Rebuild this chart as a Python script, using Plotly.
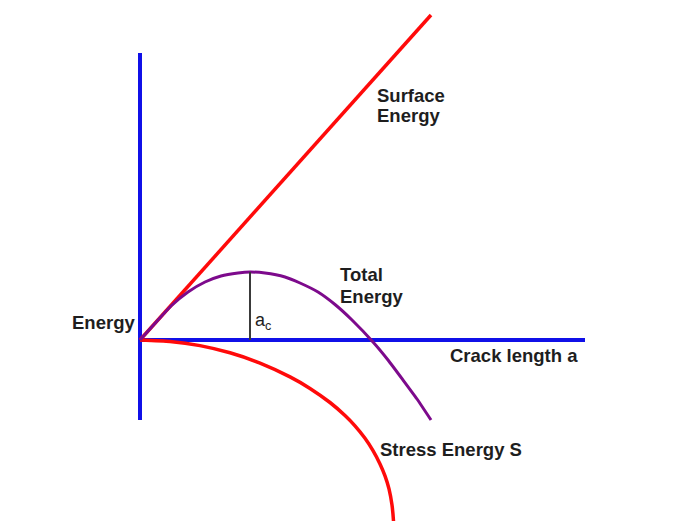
import plotly.graph_objects as go

# Data (crack length a, energy) in arbitrary units
surface_a = [0.0, 2.91]
surface_E = [0.0, 3.25]

total_a = [0.0, 0.18, 0.31, 0.48, 0.65, 0.81, 0.98, 1.10, 1.25, 1.45, 1.60, 1.78, 1.95,
           2.12, 2.33, 2.48, 2.63, 2.77, 2.91]
total_E = [0.0, 0.20, 0.34, 0.48, 0.58, 0.64, 0.67, 0.68, 0.67, 0.63, 0.57, 0.48, 0.355,
           0.20, -0.02, -0.20, -0.40, -0.59, -0.80]

stress_a = [0.0, 0.30, 0.60, 0.90, 1.20, 1.50, 1.70, 1.90, 2.05, 2.15, 2.25, 2.33,
            2.40, 2.45, 2.49, 2.52, 2.535, 2.54]
stress_E = [0.0, -0.014, -0.056, -0.128, -0.231, -0.369, -0.484, -0.625, -0.755, -0.858,
            -0.983, -1.106, -1.239, -1.359, -1.489, -1.651, -1.81, -1.95]

a_crit = 1.10
E_crit = 0.68

axis_v_E = [2.87, -0.80]
axis_h_a = [0.0, 4.45]

BLUE = "#1010e8"
RED = "#ff0a0a"
PURPLE = "#7d0a8c"
TXT = "#1e1e1e"
FONT = "Arial, Liberation Sans, sans-serif"

fig = go.Figure()

# axes
fig.add_trace(go.Scatter(x=[0, 0], y=axis_v_E, mode="lines",
                         line=dict(color=BLUE, width=4), hoverinfo="skip"))
fig.add_trace(go.Scatter(x=axis_h_a, y=[0, 0], mode="lines",
                         line=dict(color=BLUE, width=4), hoverinfo="skip"))

# curves
fig.add_trace(go.Scatter(x=stress_a, y=stress_E, mode="lines",
                         line=dict(color=RED, width=3.5, shape="spline", smoothing=0.5),
                         name="Stress Energy S"))
fig.add_trace(go.Scatter(x=surface_a, y=surface_E, mode="lines",
                         line=dict(color=RED, width=3.5), name="Surface Energy"))
fig.add_trace(go.Scatter(x=total_a, y=total_E, mode="lines",
                         line=dict(color=PURPLE, width=3, shape="spline", smoothing=0.5),
                         name="Total Energy"))
fig.add_trace(go.Scatter(x=[a_crit, a_crit], y=[0, E_crit], mode="lines",
                         line=dict(color="#3a3a3a", width=2), hoverinfo="skip"))


def label(x, y, text, xanchor="left", bold=True, size=18.5):
    fig.add_annotation(x=x, y=y, xref="x", yref="y", text=(f"<b>{text}</b>" if bold else text),
                       showarrow=False, xanchor=xanchor, yanchor="middle", align="left",
                       font=dict(family=FONT, size=size, color=TXT))


label(2.35, 2.45, "Surface")
label(2.35, 2.25, "Energy")
label(1.975, 0.66, "Total")
label(1.975, 0.44, "Energy")
label(-0.03, 0.18, "Energy", xanchor="right")
label(1.13, 0.19, "a<sub>c</sub>", bold=False, size=18)
label(3.08, -0.15, "Crack length a")
label(2.38, -1.09, "Stress Energy S")

# the page adds an 8px body margin, so ranges are shifted to compensate
fig.update_layout(
    width=692, height=521,
    margin=dict(l=0, r=0, t=0, b=0),
    paper_bgcolor="white", plot_bgcolor="white",
    showlegend=False,
    xaxis=dict(range=[-1.32, 5.60], visible=False, fixedrange=True),
    yaxis=dict(range=[-1.89, 3.32], visible=False, fixedrange=True),
)

fig.write_html("out.html")
